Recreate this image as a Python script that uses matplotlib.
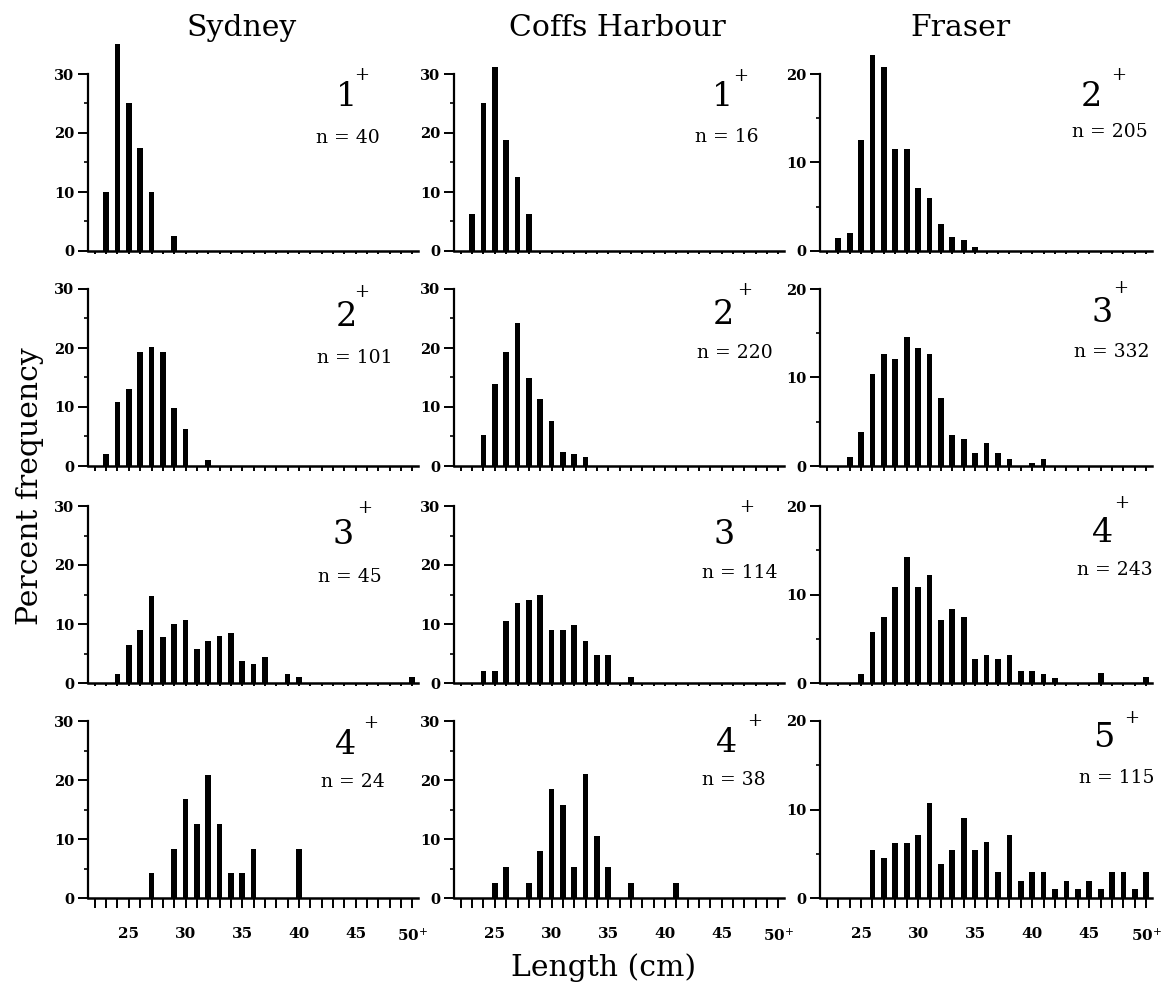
import matplotlib
matplotlib.use("Agg")
import matplotlib.pyplot as plt
from matplotlib.ticker import MultipleLocator, FixedLocator

plt.rcParams['font.family'] = ['DejaVu Serif']
plt.rcParams['mathtext.fontset'] = 'dejavuserif'

# ---------------- data ----------------
sites = ["Sydney", "Coffs Harbour", "Fraser"]

sydney_1_len = [23, 24, 25, 26, 27, 29]
sydney_1_pct = [10.0, 35.0, 25.0, 17.5, 10.0, 2.5]
sydney_2_len = [23, 24, 25, 26, 27, 28, 29, 30, 32]
sydney_2_pct = [2.0, 10.9, 13.1, 19.3, 20.2, 19.3, 9.9, 6.2, 1.0]
sydney_3_len = [24, 25, 26, 27, 28, 29, 30, 31, 32, 33, 34, 35, 36, 37, 39, 40, 50]
sydney_3_pct = [1.5, 6.5, 9.0, 14.8, 7.8, 10.0, 10.7, 5.7, 7.2, 7.9, 8.4, 3.8, 3.2, 4.4, 1.6, 1.0, 1.0]
sydney_4_len = [27, 29, 30, 31, 32, 33, 34, 35, 36, 40]
sydney_4_pct = [4.2, 8.3, 16.7, 12.5, 20.8, 12.5, 4.2, 4.2, 8.3, 8.3]

coffs_1_len = [23, 24, 25, 26, 27, 28]
coffs_1_pct = [6.25, 25.0, 31.25, 18.75, 12.5, 6.25]
coffs_2_len = [24, 25, 26, 27, 28, 29, 30, 31, 32, 33]
coffs_2_pct = [5.3, 13.9, 19.3, 24.3, 14.9, 11.3, 7.6, 2.4, 2.1, 1.5]
coffs_3_len = [24, 25, 26, 27, 28, 29, 30, 31, 32, 33, 34, 35, 37]
coffs_3_pct = [2.0, 2.0, 10.5, 13.5, 14.1, 15.0, 9.0, 9.0, 9.9, 7.1, 4.7, 4.7, 1.1]
coffs_4_len = [25, 26, 28, 29, 30, 31, 32, 33, 34, 35, 37, 41]
coffs_4_pct = [2.6, 5.3, 2.6, 7.9, 18.4, 15.8, 5.3, 21.1, 10.5, 5.3, 2.6, 2.6]

fraser_2_len = [23, 24, 25, 26, 27, 28, 29, 30, 31, 32, 33, 34, 35]
fraser_2_pct = [1.5, 2.0, 12.5, 22.2, 20.8, 11.5, 11.5, 7.1, 6.0, 3.1, 1.6, 1.2, 0.5]
fraser_3_len = [24, 25, 26, 27, 28, 29, 30, 31, 32, 33, 34, 35, 36, 37, 38, 40, 41]
fraser_3_pct = [1.0, 3.8, 10.4, 12.7, 12.1, 14.6, 13.3, 12.6, 7.7, 3.5, 3.1, 1.5, 2.6, 1.5, 0.8, 0.3, 0.8]
fraser_4_len = [25, 26, 27, 28, 29, 30, 31, 32, 33, 34, 35, 36, 37, 38, 39, 40, 41, 42, 46, 50]
fraser_4_pct = [1.0, 5.8, 7.5, 10.8, 14.2, 10.9, 12.2, 7.1, 8.4, 7.5, 2.7, 3.2, 2.7, 3.2, 1.4, 1.4, 1.0, 0.6, 1.1, 0.7]
fraser_5_len = [26, 27, 28, 29, 30, 31, 32, 33, 34, 35, 36, 37, 38, 39, 40, 41, 42, 43, 44, 45, 46, 47, 48, 49, 50]
fraser_5_pct = [5.4, 4.5, 6.2, 6.2, 7.1, 10.7, 3.8, 5.4, 9.0, 5.4, 6.3, 2.9, 7.1, 1.9, 2.9, 2.9, 1.0, 1.9, 1.0, 1.9, 1.0, 2.9, 2.9, 1.0, 2.9]

sydney_ages = ["1", "2", "3", "4"]
coffs_ages = ["1", "2", "3", "4"]
fraser_ages = ["2", "3", "4", "5"]
sydney_n = [40, 101, 45, 24]
coffs_n = [16, 220, 114, 38]
fraser_n = [205, 332, 243, 115]

xtick_values = [25, 30, 35, 40, 45, 50]
xtick_labels = ["25", "30", "35", "40", "45", r"50$^{+}$"]

# ---------------- layout ----------------
W, H = 1171, 997
fig = plt.figure(figsize=(W / 100, H / 100), dpi=100)

col_left = [88, 454, 820]
col_width = [330, 330, 332]
row_zero = [251, 466, 683, 898]
ax_h = 212.4

columns = [
    ([(sydney_1_len, sydney_1_pct), (sydney_2_len, sydney_2_pct),
      (sydney_3_len, sydney_3_pct), (sydney_4_len, sydney_4_pct)], sydney_ages, sydney_n, 30),
    ([(coffs_1_len, coffs_1_pct), (coffs_2_len, coffs_2_pct),
      (coffs_3_len, coffs_3_pct), (coffs_4_len, coffs_4_pct)], coffs_ages, coffs_n, 30),
    ([(fraser_2_len, fraser_2_pct), (fraser_3_len, fraser_3_pct),
      (fraser_4_len, fraser_4_pct), (fraser_5_len, fraser_5_pct)], fraser_ages, fraser_n, 20),
]

# label positions (axes fraction): (age x, age y, plus x, plus y, n x, n y)
label_pos = [
    [(0.785, 0.725, 0.828, 0.83, 0.789, 0.532),
     (0.784, 0.703, 0.830, 0.818, 0.809, 0.507),
     (0.774, 0.697, 0.839, 0.825, 0.794, 0.500),
     (0.782, 0.720, 0.855, 0.824, 0.804, 0.548)],
    [(0.815, 0.725, 0.870, 0.825, 0.827, 0.537),
     (0.815, 0.711, 0.882, 0.829, 0.852, 0.531),
     (0.820, 0.697, 0.887, 0.830, 0.867, 0.516),
     (0.825, 0.728, 0.912, 0.835, 0.848, 0.556)],
    [(0.818, 0.725, 0.899, 0.829, 0.873, 0.560),
     (0.849, 0.719, 0.906, 0.839, 0.879, 0.538),
     (0.852, 0.705, 0.909, 0.846, 0.889, 0.532),
     (0.855, 0.752, 0.939, 0.846, 0.894, 0.564)],
]

for c, (panels, ages, ns, ytop) in enumerate(columns):
    for r, (lens, pcts) in enumerate(panels):
        left = col_left[c] / W
        bottom = 1 - row_zero[r] / H
        ax = fig.add_axes([left, bottom, col_width[c] / W, ax_h / H])
        ax.bar(lens, pcts, width=0.5, color='black', linewidth=0)
        ax.set_xlim(21.4, 50.5)
        ax.set_ylim(0, ytop * 1.2)
        for s in ['top', 'right']:
            ax.spines[s].set_visible(False)
        ax.spines['left'].set_bounds(0, ytop)
        ax.spines['left'].set_linewidth(1.6)
        ax.spines['bottom'].set_linewidth(1.8)
        ax.yaxis.set_major_locator(FixedLocator([0, 10, 20, 30][: ytop // 10 + 1]))
        ax.yaxis.set_minor_locator(FixedLocator([5, 15, 25][: ytop // 10]))
        ax.xaxis.set_major_locator(FixedLocator(xtick_values))
        ax.xaxis.set_minor_locator(MultipleLocator(1))
        ax.tick_params(axis='y', which='major', length=7, width=1.4, labelsize=10.5, pad=3)
        ax.tick_params(axis='y', which='minor', length=3, width=1.2)
        ax.tick_params(axis='x', which='both', length=7, width=1.4, labelsize=11, pad=14)
        for lab in ax.get_yticklabels():
            lab.set_fontweight('bold')
        if r == 3:
            ax.set_xticklabels(xtick_labels)
            for lab in ax.get_xticklabels():
                lab.set_fontweight('bold')
        else:
            ax.set_xticklabels([])

        agx, agy, plx, ply, nx, ny = label_pos[c][r]
        ax.text(agx, agy, ages[r], transform=ax.transAxes, fontsize=24,
                ha='center', va='center')
        ax.text(plx, ply, "+", transform=ax.transAxes, fontsize=13,
                ha='center', va='center')
        ax.text(nx, ny, f"n = {ns[r]}", transform=ax.transAxes, fontsize=13.5,
                ha='center', va='center')

# column titles
title_x = [242, 617, 960]
for t, x in zip(sites, title_x):
    fig.text(x / W, 1 - 28 / H, t, fontsize=21.5, ha='center', va='center')

fig.text(30 / W, 1 - 486 / H, "Percent frequency", fontsize=21.5, rotation=90,
         ha='center', va='center')
fig.text(604 / W, 1 - 968 / H, "Length (cm)", fontsize=21.5, ha='center', va='center')

fig.savefig("out.png", dpi=100)
